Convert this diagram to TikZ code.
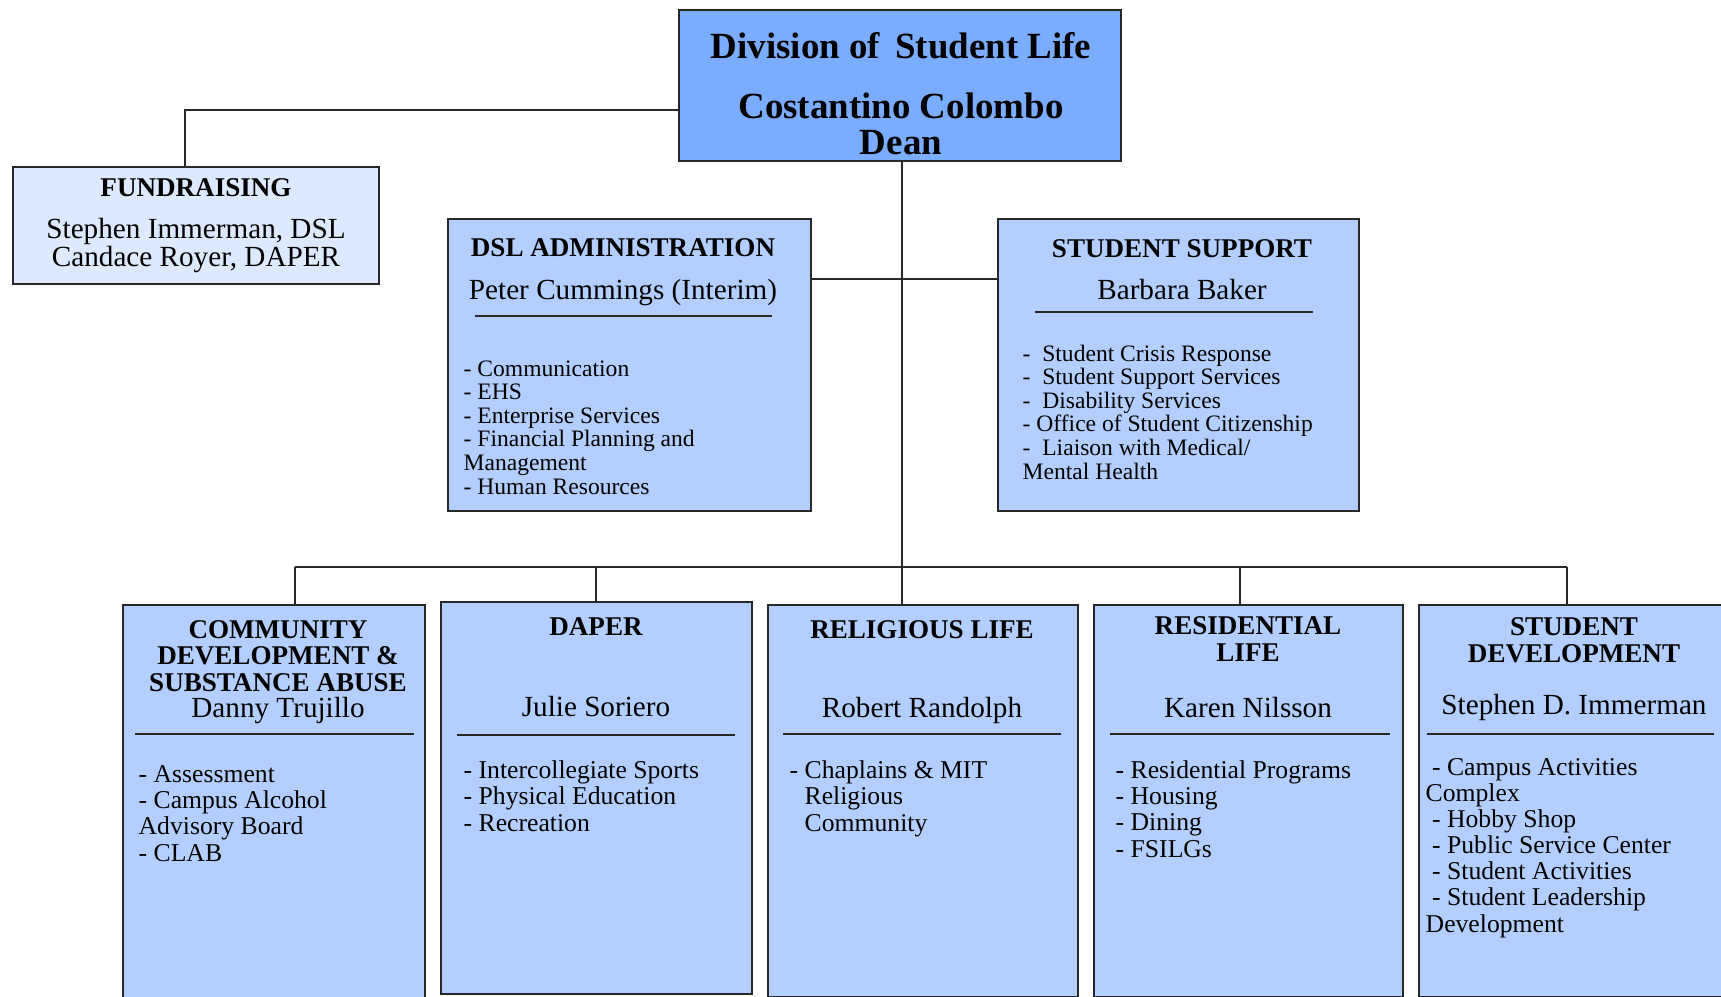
\documentclass[tikz,border=0pt]{standalone}
\usepackage{fontspec}
\setmainfont{Liberation Serif}
\usepackage{xcolor}
\usetikzlibrary{positioning}

\definecolor{deanblue}{RGB}{122,172,255}
\definecolor{unitblue}{RGB}{179,207,255}
\definecolor{fundblue}{RGB}{221,233,255}
\definecolor{edgegray}{RGB}{40,40,40}

% multi-line nodes sit on the baseline of their last line
\tikzset{
  box/.style={draw=edgegray, rectangle, line width=0.6pt, anchor=north west, inner sep=0pt},
  deanbox/.style={box, fill=deanblue},
  unitbox/.style={box, fill=unitblue},
  fundbox/.style={box, fill=fundblue},
  titletext/.style={font=\fontsize{10.5}{10.5}\selectfont\bfseries, align=center, anchor=base, inner sep=0pt},
  headtext/.style={font=\fontsize{7.7}{7.4}\selectfont\bfseries, align=center, anchor=base, inner sep=0pt},
  nametext/.style={font=\fontsize{8.3}{8.2}\selectfont, align=center, anchor=base, inner sep=0pt},
  smallitems/.style={font=\fontsize{6.7}{6.7}\selectfont, align=left, anchor=base west, inner sep=0pt},
  items/.style={font=\fontsize{7.3}{7.4}\selectfont, align=left, anchor=base west, inner sep=0pt},
  link/.style={draw=edgegray, line width=0.5pt},
  rule/.style={draw=edgegray, line width=0.6pt},
}

\begin{document}
\begin{tikzpicture}[x=0.01cm, y=-0.01cm]
  \useasboundingbox (0,0) rectangle (1721,997);

  % boxes
  \node[deanbox, minimum width=4.42cm, minimum height=1.51cm] (dean) at (678,9) {};
  \node[fundbox, minimum width=3.66cm, minimum height=1.17cm] (fund) at (12,166) {};
  \node[unitbox, minimum width=3.63cm, minimum height=2.92cm] (admin) at (447,218) {};
  \node[unitbox, minimum width=3.61cm, minimum height=2.92cm] (support) at (997,218) {};
  \node[unitbox, minimum width=3.02cm, minimum height=4.00cm] (cdsa) at (122,604) {};
  \node[unitbox, minimum width=3.11cm, minimum height=3.92cm] (daper) at (440,601) {};
  \node[unitbox, minimum width=3.10cm, minimum height=3.92cm] (relig) at (767,604) {};
  \node[unitbox, minimum width=3.09cm, minimum height=3.92cm] (reslife) at (1093,604) {};
  \node[unitbox, minimum width=3.20cm, minimum height=3.92cm] (studev) at (1418,604) {};

  % connectors
  \coordinate (fundturn) at (185,110);
  \coordinate (hub) at (902,567);
  \draw[link] (dean.west |- fundturn) -- (fundturn) -- (fundturn |- fund.north);
  \draw[link] (hub |- dean.south) -- (hub);
  \draw[link] (admin.east |- 0,279) -- (support.west |- 0,279);
  \draw[link] (295,567) -- (1567,567);
  \foreach \x/\b in {295/cdsa, 596/daper, 902/relig, 1240/reslife, 1567/studev}
    \draw[link] (\x,567) -- (\x,0 |- \b.north);

  % dean
  \node[titletext] (deantitle) at (901,59) {Division of\, Student Life};
  \node[titletext] (deanname) at (901,155) {Costantino Colombo\\Dean};

  % fundraising
  \node[headtext] (fundhead) at (196,196) {FUNDRAISING};
  \node[nametext] (fundnames) at (196,267) {Stephen Immerman, DSL\\Candace Royer, DAPER};

  % dsl administration
  \node[headtext] (adminhead) at (623,257) {DSL ADMINISTRATION};
  \node[nametext] (adminname) at (623,299) {Peter Cummings (Interim)};
  \draw[rule] (475,316) -- (772,316);
  \node[smallitems] (adminitems) at (463,494) {- Communication\\- EHS\\- Enterprise Services\\- Financial Planning and\\Management\\- Human Resources};

  % student support
  \node[headtext] (supporthead) at (1182,258) {STUDENT SUPPORT};
  \node[nametext] (supportname) at (1182,299) {Barbara Baker};
  \draw[rule] (1035,312) -- (1313,312);
  \node[smallitems] (supportitems) at (1022,479) {-~ Student Crisis Response\\-~ Student Support Services\\-~ Disability Services\\- Office of Student Citizenship\\-~ Liaison with Medical/\\Mental Health};

  % community development
  \node[headtext] (cdsahead) at (278,691) {COMMUNITY\\DEVELOPMENT \&\\SUBSTANCE ABUSE};
  \node[nametext] (cdsaname) at (278,717) {Danny Trujillo};
  \draw[rule] (135,734) -- (414,734);
  \node[items] (cdsaitems) at (138,861) {- Assessment\\- Campus Alcohol\\Advisory Board\\- CLAB};

  % daper
  \node[headtext] (daperhead) at (596,635) {DAPER};
  \node[nametext] (dapername) at (596,716) {Julie Soriero};
  \draw[rule] (457,735) -- (735,735);
  \node[items] (daperitems) at (463,831) {- Intercollegiate Sports\\- Physical Education\\- Recreation};

  % religious life
  \node[headtext] (relighead) at (922,638) {RELIGIOUS LIFE};
  \node[nametext] (religname) at (922,717) {Robert Randolph};
  \draw[rule] (783,734) -- (1061,734);
  \node[items] (religitems) at (789,831) {- Chaplains \& MIT\\\phantom{-~}Religious\\\phantom{-~}Community};

  % residential life
  \node[headtext] (reslifehead) at (1248,661) {RESIDENTIAL\\LIFE};
  \node[nametext] (reslifename) at (1248,717) {Karen Nilsson};
  \draw[rule] (1110,734) -- (1390,734);
  \node[items] (reslifeitems) at (1115,857) {- Residential Programs\\- Housing\\- Dining\\- FSILGs};

  % student development
  \node[headtext] (studevhead) at (1574,662) {STUDENT\\DEVELOPMENT};
  \node[nametext] (studevname) at (1574,714) {Stephen D. Immerman};
  \draw[rule] (1427,734) -- (1714,734);
  \node[items] (studevitems) at (1425,932) {~- Campus Activities\\Complex\\~- Hobby Shop\\~- Public Service Center\\~- Student Activities\\~- Student Leadership\\Development};
\end{tikzpicture}
\end{document}
